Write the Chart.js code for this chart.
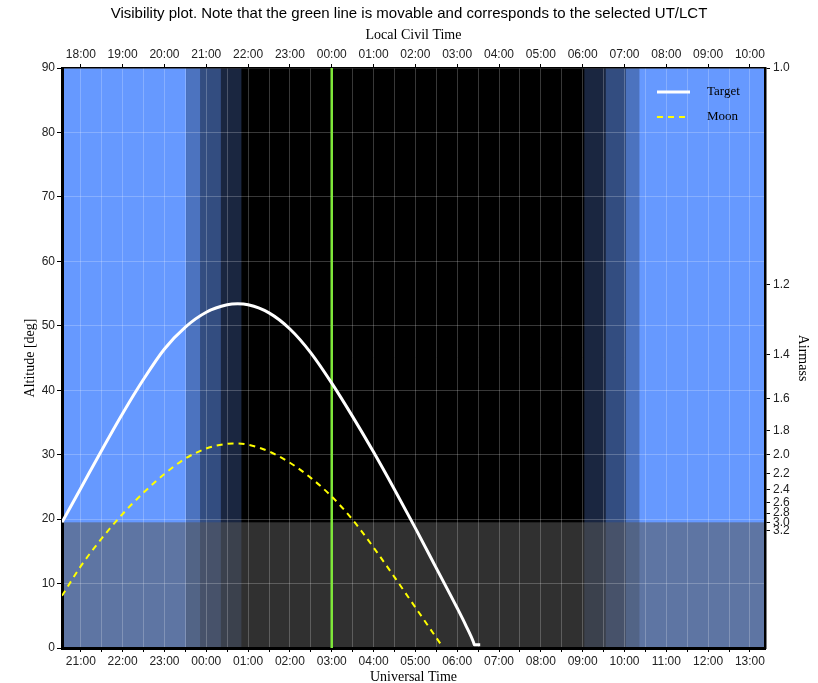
<!DOCTYPE html>
<html>
<head>
<meta charset="utf-8">
<title>Visibility plot</title>
<script src="https://cdn.jsdelivr.net/npm/chart.js@4.4.0/dist/chart.umd.min.js"></script>
<style>
  html, body { margin: 0; padding: 0; background: #fff; }
  #wrap { width: 818px; height: 683px; position: relative; }
</style>
</head>
<body>
<div id="wrap"><canvas id="visChart"></canvas></div>
<script>
/* ================= DATA ================= */

// times are UT hours counted from 00:00 of the evening date (24+ = next morning)
const targetTime = [20.55, 21.0, 21.5, 22.0, 22.5, 23.0, 23.5, 24.0, 24.5, 24.75, 25.0, 25.5, 26.0, 26.5, 27.0, 27.5, 28.0, 28.5, 29.0, 29.5, 30.0, 30.2, 30.39, 30.41, 30.55];
const targetAlt  = [19.5, 24.8, 30.7, 36.4, 41.7, 46.4, 49.8, 52.1, 53.25, 53.4, 53.25, 52.0, 49.5, 45.8, 41.1, 35.9, 30.4, 24.6, 18.6, 12.4, 6.2, 3.6, 0.9, 0.5, 0.5];

const moonTime = [20.55, 21.0, 21.5, 22.0, 22.5, 23.0, 23.5, 24.0, 24.5, 24.65, 25.0, 25.5, 26.0, 26.5, 27.0, 27.5, 28.0, 28.5, 29.0, 29.5, 29.65];
const moonAlt  = [8.1, 12.7, 17.0, 20.8, 24.1, 27.0, 29.4, 30.95, 31.7, 31.75, 31.55, 30.5, 28.75, 26.4, 23.5, 19.9, 15.6, 11.0, 6.3, 1.6, 0.2];

const utLabels  = ['21:00', '22:00', '23:00', '00:00', '01:00', '02:00', '03:00', '04:00', '05:00', '06:00', '07:00', '08:00', '09:00', '10:00', '11:00', '12:00', '13:00'];
const lctLabels = ['18:00', '19:00', '20:00', '21:00', '22:00', '23:00', '00:00', '01:00', '02:00', '03:00', '04:00', '05:00', '06:00', '07:00', '08:00', '09:00', '10:00'];
const firstLabelHour = 21;

const airmassTicks = [1.0, 1.2, 1.4, 1.6, 1.8, 2.0, 2.2, 2.4, 2.6, 2.8, 3.0, 3.2];

// sunset, end of civil, nautical, astronomical twilight / and back again at dawn
const eveningTwilight = [23.53, 23.86, 24.35, 24.84];
const morningTwilight = [33.04, 33.55, 34.03, 34.35];

const plotStart = 20.55;
const plotEnd = 37.36;
const selectedUT = 27.0;
const airmassLimitAlt = 19.5;

/* ================= STYLE ================= */

const SANS = "'Liberation Sans', Arial, Helvetica, sans-serif";
const SERIF = "'Liberation Serif', 'Times New Roman', serif";
const gridColor = 'rgba(255,255,255,0.22)';
const skyBlue = [102, 153, 255];

Chart.defaults.font.family = SANS;

function hourTicks(withHalf) {
  const ticks = [];
  utLabels.forEach((_, i) => {
    const h = firstLabelHour + i;
    ticks.push({ value: h });
    if (withHalf && h + 0.5 < plotEnd) ticks.push({ value: h + 0.5 });
  });
  return ticks;
}

function hourLabel(labels, v) {
  return Number.isInteger(v) ? labels[v - firstLabelHour] : '';
}

/* ================= PLUGINS ================= */

// night sky shading + the low-altitude (high airmass) zone
const skyShading = {
  id: 'skyShading',
  beforeDraw(chart) {
    const { ctx, chartArea: a, scales: { x, y } } = chart;
    const band = (t0, t1, alpha) => {
      const x0 = x.getPixelForValue(t0);
      const x1 = x.getPixelForValue(t1);
      ctx.fillStyle = `rgba(${skyBlue.join(',')},${alpha})`;
      ctx.fillRect(x0, a.top, x1 - x0, a.height);
    };
    ctx.save();
    ctx.fillStyle = '#000';
    ctx.fillRect(a.left, a.top, a.width, a.height);

    const ev = [plotStart, ...eveningTwilight];
    const mo = [...morningTwilight, plotEnd];
    const alphas = [1, 0.75, 0.5, 0.25];
    for (let i = 0; i < 4; i++) {
      band(ev[i], ev[i + 1], alphas[i]);
      band(mo[i], mo[i + 1], alphas[3 - i]);
    }

    const yl = y.getPixelForValue(airmassLimitAlt);
    ctx.fillStyle = 'rgba(88,88,88,0.55)';
    ctx.fillRect(a.left, yl, a.width, a.bottom - yl);
    ctx.restore();
  }
};

// small legend inside the top-right corner of the plot
const innerLegend = {
  id: 'innerLegend',
  afterDatasetsDraw(chart) {
    const { ctx, chartArea: a } = chart;
    ctx.save();
    chart.data.datasets.filter(d => d.inLegend).forEach((ds, i) => {
      const yy = a.top + 24 + i * 25;
      ctx.strokeStyle = ds.borderColor;
      ctx.lineWidth = ds.borderWidth;
      ctx.setLineDash(ds.borderDash || []);
      ctx.beginPath();
      ctx.moveTo(a.right - 108, yy);
      ctx.lineTo(a.right - 75, yy);
      ctx.stroke();
      ctx.setLineDash([]);
      ctx.fillStyle = '#000';
      ctx.font = `13px ${SERIF}`;
      ctx.textBaseline = 'middle';
      ctx.fillText(ds.label, a.right - 58, yy);
    });
    ctx.restore();
  }
};

/* ================= CHART ================= */

const toPoints = (xs, ys) => xs.map((t, i) => ({ x: t, y: ys[i] }));
const axisTitle = (text, pad) => ({
  display: true, text, color: '#000',
  font: { family: SERIF, size: 14, lineHeight: 1 },
  padding: pad
});

new Chart(document.getElementById('visChart'), {
  type: 'line',
  data: {
    datasets: [
      {
        label: 'Target',
        data: toPoints(targetTime, targetAlt),
        borderColor: '#ffffff',
        borderWidth: 3,
        pointRadius: 0,
        cubicInterpolationMode: 'monotone',
        inLegend: true
      },
      {
        label: 'Moon',
        data: toPoints(moonTime, moonAlt),
        borderColor: '#ffff00',
        borderWidth: 2,
        borderDash: [6, 5],
        pointRadius: 0,
        cubicInterpolationMode: 'monotone',
        inLegend: true
      },
      {
        label: 'Selected UT',
        data: [{ x: selectedUT, y: 0 }, { x: selectedUT, y: 90 }],
        borderColor: '#7fe83a',
        borderWidth: 2.5,
        pointRadius: 0
      }
    ]
  },
  options: {
    responsive: true,
    maintainAspectRatio: false,
    animation: false,
    events: [],
    layout: { padding: 0 },
    plugins: {
      legend: { display: false },
      tooltip: { enabled: false },
      title: {
        display: true,
        text: 'Visibility plot. Note that the green line is movable and corresponds to the selected UT/LCT',
        color: '#000',
        font: { family: SANS, size: 15, weight: 'normal', lineHeight: 1.2 },
        padding: { top: 5, bottom: 0 }
      }
    },
    scales: {
      x: {
        type: 'linear',
        position: 'bottom',
        min: plotStart,
        max: plotEnd,
        afterBuildTicks: s => { s.ticks = hourTicks(true); },
        afterFit: s => { s.height = 35; },
        ticks: {
          autoSkip: false, maxRotation: 0, padding: 2, color: '#222',
          font: { size: 12 },
          callback: v => hourLabel(utLabels, v)
        },
        grid: { color: gridColor, tickColor: '#000', tickLength: 4 },
        border: { color: '#000', width: 3 },
        title: axisTitle('Universal Time', { top: 0, bottom: -1.5 })
      },
      x2: {
        type: 'linear',
        position: 'top',
        min: plotStart,
        max: plotEnd,
        afterBuildTicks: s => { s.ticks = hourTicks(false); },
        afterFit: s => { s.height = 45; },
        ticks: {
          autoSkip: false, maxRotation: 0, padding: 2, color: '#222',
          font: { size: 12 },
          callback: v => hourLabel(lctLabels, v)
        },
        grid: { drawOnChartArea: false, tickColor: '#000', tickLength: 4 },
        border: { color: '#000', width: 1.5 },
        title: axisTitle('Local Civil Time', { top: 5, bottom: 0 })
      },
      y: {
        position: 'left',
        min: 0,
        max: 90,
        afterFit: s => { s.width = 62; },
        ticks: { stepSize: 10, padding: 2, color: '#222', font: { size: 12 } },
        grid: { color: gridColor, tickColor: '#000', tickLength: 5 },
        border: { color: '#000', width: 3 },
        title: axisTitle('Altitude [deg]', { top: 23, bottom: 0 })
      },
      y2: {
        position: 'right',
        min: 0,
        max: 90,
        afterBuildTicks: s => {
          s.ticks = airmassTicks.map(am => ({ value: Math.asin(1 / am) * 180 / Math.PI }));
        },
        afterFit: s => { s.width = 53; },
        ticks: {
          autoSkip: false, padding: 3, color: '#222', font: { size: 12 },
          callback: (v, i) => airmassTicks[i].toFixed(1)
        },
        grid: { drawOnChartArea: false, tickColor: '#000', tickLength: 5 },
        border: { color: '#000', width: 2.5 },
        title: axisTitle('Airmass', { top: 8, bottom: 0 })
      }
    }
  },
  plugins: [skyShading, innerLegend]
});
</script>
</body>
</html>
